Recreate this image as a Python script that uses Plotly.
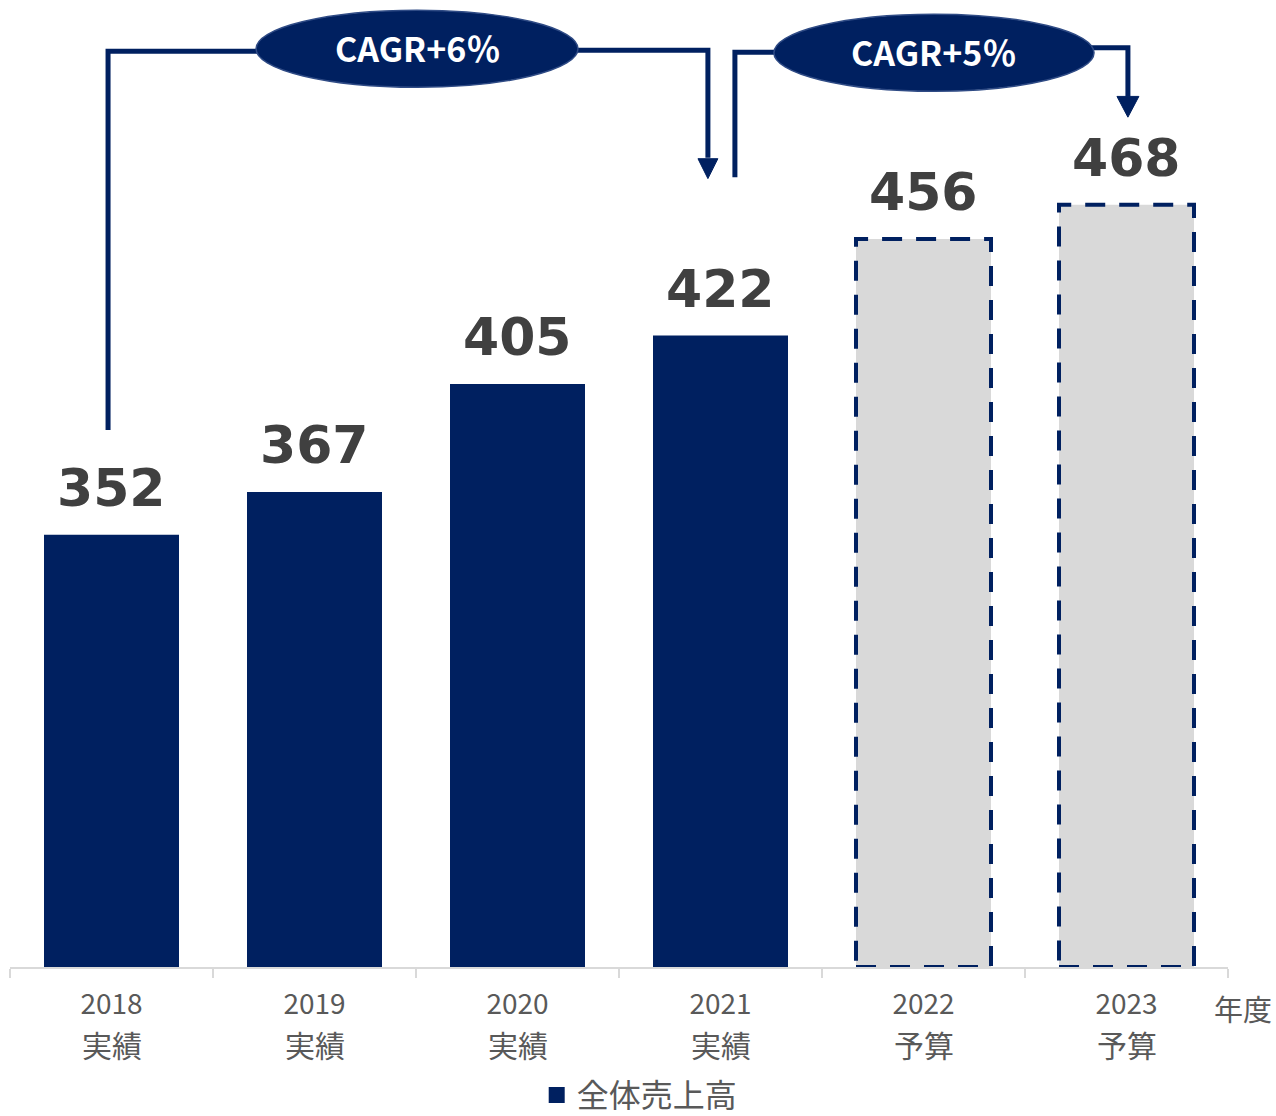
import plotly.graph_objects as go

# ---- data ----
years = ["2018", "2019", "2020", "2021", "2022", "2023"]
kinds = ["実績", "実績", "実績", "実績", "予算", "予算"]
sales = [352, 367, 405, 422, 456, 468]
is_budget = [False, False, False, False, True, True]
series_name = "全体売上高"
cagr_labels = ["CAGR+6％", "CAGR+5％"]
axis_unit = "年度"

NAVY = "#002060"
GRAY_FILL = "#d9d9d9"
TXT = "#404040"
TICK = "#595959"
BAR_W = 0.665
Y0, Y1 = 200, 540

act_x = [c for c, b in zip(years, is_budget) if not b]
act_y = [v for v, b in zip(sales, is_budget) if not b]
bud_x = [c for c, b in zip(years, is_budget) if b]
bud_y = [v for v, b in zip(sales, is_budget) if b]

fig = go.Figure()
fig.add_trace(go.Bar(x=act_x, y=act_y, width=BAR_W, name=series_name, showlegend=False,
                     marker=dict(color=NAVY, line=dict(width=0))))
fig.add_trace(go.Bar(x=bud_x, y=bud_y, width=BAR_W, name=series_name, showlegend=False,
                     marker=dict(color=GRAY_FILL, line=dict(width=0))))
# legend entry (square swatch)
fig.add_trace(go.Scatter(x=[None], y=[None], mode="markers", name=series_name,
                         marker=dict(symbol="square", size=17, color=NAVY)))
# invisible trace to activate the numeric overlay axis
fig.add_trace(go.Scatter(x=[0], y=[Y0], xaxis="x2", mode="markers",
                         marker=dict(opacity=0), showlegend=False, hoverinfo="skip"))

shapes = []
# dashed borders on budget bars
for i, (v, b) in enumerate(zip(sales, is_budget)):
    if b:
        shapes.append(dict(type="rect", xref="x2", yref="y",
                           x0=i - BAR_W / 2, x1=i + BAR_W / 2, y0=Y0, y1=v,
                           line=dict(color=NAVY, width=4, dash="20px,14px"),
                           fillcolor="rgba(0,0,0,0)", layer="above"))

annotations = []
# value labels
for i, v in enumerate(sales):
    annotations.append(dict(x=i, y=v, xref="x2", yref="y", text=f"<b>{v}</b>",
                            showarrow=False, yanchor="bottom", yshift=15,
                            font=dict(family="DejaVu Sans", size=52, color=TXT)))
# second line of category labels
for i, k in enumerate(kinds):
    annotations.append(dict(x=i, y=-0.0795, xref="x2", yref="paper", text=k,
                            showarrow=False, yanchor="middle",
                            font=dict(family="Noto Sans CJK JP", size=30, color=TICK)))

# CAGR connectors (decorative)
LW = 5
def path(pts):
    return "M " + " L ".join(f"{x},{y}" for x, y in pts)

shapes += [
    dict(type="path", xref="x2", yref="y", path=path([(-0.017, 388.8), (-0.017, 522.0), (0.75, 522.0)]),
         line=dict(color=NAVY, width=LW)),
    dict(type="path", xref="x2", yref="y", path=path([(2.25, 522.3), (2.938, 522.3), (2.938, 484.5)]),
         line=dict(color=NAVY, width=LW)),
    dict(type="path", xref="x2", yref="y",
         path="M 2.889,484.2 L 2.987,484.2 L 2.938,477.2 Z", fillcolor=NAVY, line=dict(color=NAVY, width=1)),
    dict(type="path", xref="x2", yref="y", path=path([(3.071, 477.7), (3.071, 521.6), (3.30, 521.6)]),
         line=dict(color=NAVY, width=LW)),
    dict(type="path", xref="x2", yref="y", path=path([(4.80, 523.2), (5.007, 523.2), (5.007, 506.0)]),
         line=dict(color=NAVY, width=LW)),
    dict(type="path", xref="x2", yref="y",
         path="M 4.953,506.1 L 5.061,506.1 L 5.007,498.8 Z", fillcolor=NAVY, line=dict(color=NAVY, width=1)),
    dict(type="circle", xref="x2", yref="y", x0=0.712, x1=2.298, y0=509.3, y1=536.4,
         fillcolor=NAVY, line=dict(color="#2f4b85", width=1.5)),
    dict(type="circle", xref="x2", yref="y", x0=3.263, x1=4.840, y0=507.9, y1=535.0,
         fillcolor=NAVY, line=dict(color="#2f4b85", width=1.5)),
]
for (cx, cy), lab in zip([(1.505, 523.4), (4.05, 522.0)], cagr_labels):
    annotations.append(dict(x=cx, y=cy, xref="x2", yref="y", text=f"<b>{lab}</b>", showarrow=False,
                            font=dict(family="Noto Sans CJK JP", size=34, color="white")))

annotations.append(dict(x=1.0123, y=-0.0425, xref="paper", yref="paper", text=axis_unit, showarrow=False,
                        xanchor="center", yanchor="middle",
                        font=dict(family="Noto Sans CJK JP", size=29, color=TICK)))

fig.update_layout(
    width=1276, height=1116,
    margin=dict(l=10, r=48, t=0, b=149, autoexpand=False),
    paper_bgcolor="white", plot_bgcolor="white",
    barmode="overlay",
    showlegend=True,
    legend=dict(orientation="h", x=0.517, xanchor="center", y=-0.1325, yanchor="middle",
                itemsizing="trace",
                font=dict(family="Noto Sans CJK JP", size=32, color=TICK)),
    xaxis=dict(type="category", categoryorder="array", categoryarray=years,
               range=[-0.5, 5.5], showline=True, linecolor=GRAY_FILL, linewidth=1.5,
               ticks="outside", tickson="boundaries", ticklen=9, tickcolor=GRAY_FILL, tickwidth=1.5,
               ticklabelstandoff=12, automargin=False,
               showgrid=False, zeroline=False,
               tickfont=dict(family="Noto Sans CJK JP", size=28, color=TICK)),
    xaxis2=dict(overlaying="x", range=[-0.5, 5.5], visible=False),
    yaxis=dict(range=[Y0, Y1], visible=False, showgrid=False, zeroline=False, automargin=False),
    shapes=shapes, annotations=annotations,
)

fig.write_html("out.html")
